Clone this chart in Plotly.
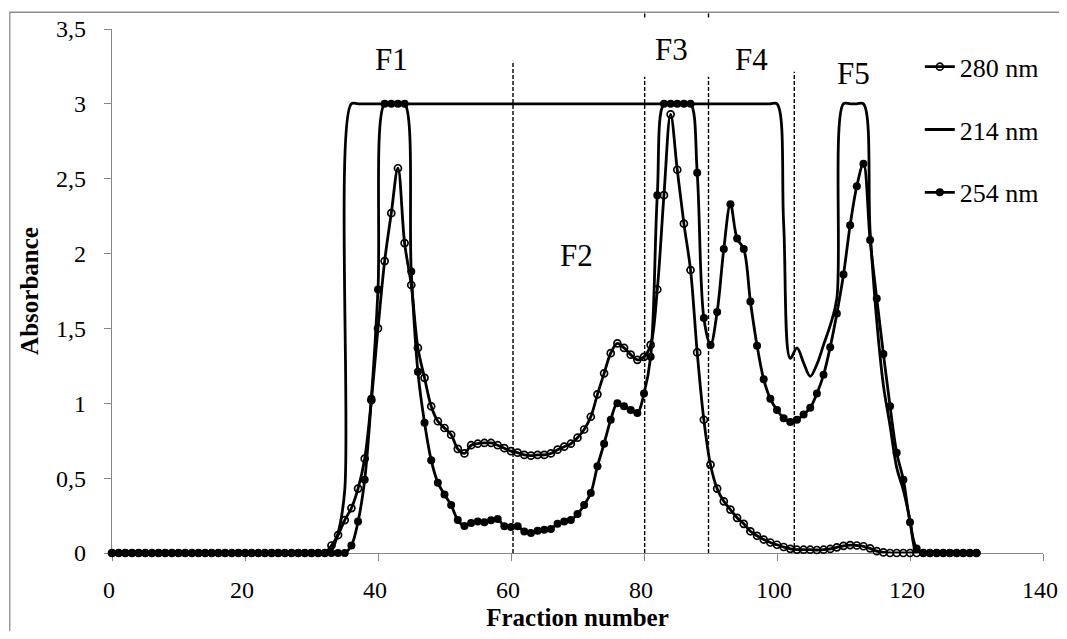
import plotly.graph_objects as go

# ---------------- data ----------------
fractions = list(range(0, 131))

a280_body = [0.05, 0.12, 0.22, 0.30, 0.43, 0.63, 1.02, 1.50, 1.95, 2.27,   # 33-42
             2.57, 2.07, 1.79, 1.37, 1.17, 0.98, 0.88, 0.835, 0.79, 0.695,  # 43-52
             0.665, 0.72, 0.73, 0.735, 0.735, 0.72, 0.70, 0.68, 0.67, 0.655,  # 53-62
             0.65, 0.655, 0.655, 0.665, 0.69, 0.71, 0.73, 0.77, 0.825, 0.91,  # 63-72
             1.06, 1.20, 1.335, 1.40, 1.37, 1.325, 1.29, 1.31, 1.39, 1.76,    # 73-82
             2.39, 2.93, 2.56, 2.20, 1.89, 1.34, 0.89, 0.59, 0.43, 0.345,     # 83-92
             0.29, 0.235, 0.195, 0.145, 0.115, 0.09, 0.07, 0.055, 0.04, 0.028,  # 93-102
             0.022, 0.022, 0.022, 0.02, 0.022, 0.027, 0.038, 0.048, 0.053, 0.05,  # 103-112
             0.045, 0.031, 0.012, 0.004]                                       # 113-116
a280 = [0.0] * 33 + a280_body + [0.0] * (131 - 33 - len(a280_body))

a254_body = [0.05, 0.21, 0.49, 1.03, 1.76, 3.0, 3.0, 3.0, 3.0, 1.88,          # 36-45
             1.21, 0.87, 0.62, 0.47, 0.39, 0.32, 0.22, 0.18, 0.20, 0.21,      # 46-55
             0.205, 0.218, 0.227, 0.178, 0.173, 0.178, 0.144, 0.134, 0.149, 0.156,  # 56-65
             0.16, 0.196, 0.21, 0.22, 0.26, 0.32, 0.40, 0.58, 0.73, 0.89,     # 66-75
             1.00, 0.98, 0.955, 0.935, 1.065, 1.31, 2.39, 3.0, 3.0, 3.0,      # 76-85
             3.0, 3.0, 2.54, 1.57, 1.39, 1.61, 2.03, 2.33, 2.10, 2.03,        # 86-95
             1.68, 1.385, 1.16, 1.03, 0.955, 0.90, 0.875, 0.89, 0.925, 0.97,  # 96-105
             1.065, 1.19, 1.375, 1.60, 1.86, 2.19, 2.45, 2.60, 2.09, 1.70,    # 106-115
             1.33, 0.98, 0.67, 0.49, 0.205, 0.03]                             # 116-121
a254 = [0.0] * 36 + a254_body + [0.0] * (131 - 36 - len(a254_body))

a214_body = [0.02, 0.135, 0.42] + [3.0] * 65 + [                              # 33-100
             2.2, 1.3, 1.37, 1.27, 1.18, 1.26, 1.39, 1.52, 1.70,              # 101-109
             3.0, 3.0, 3.0, 3.0, 2.15, 1.55, 1.12, 0.85, 0.57, 0.42, 0.22]     # 110-120
a214 = [0.0] * 33 + a214_body + [0.0] * (131 - 33 - len(a214_body))

series_names = ["280 nm", "214 nm", "254 nm"]

x_ticks = [0, 20, 40, 60, 80, 100, 120, 140]
y_ticks = [0, 0.5, 1, 1.5, 2, 2.5, 3, 3.5]

# fraction boundaries (dashed lines) and their top ends (paper units)
boundaries = [60.3, 80.1, 89.7, 102.6]
boundary_tops = [0.9395, 0.909, 0.909, 0.9185]
stub_boundaries = [80.1, 89.7]

region_labels = ["F1", "F2", "F3", "F4", "F5"]
region_x = [42.1, 69.9, 84.1, 96.2, 111.5]
region_y = [3.295, 1.99, 3.36, 3.295, 3.20]

# ---------------- figure ----------------
FONT = "Times New Roman, Liberation Serif, serif"
LW = 2.8
fig = go.Figure()

fig.add_trace(go.Scatter(
    x=fractions, y=a280, name=series_names[0], mode="lines+markers",
    line=dict(color="black", width=LW, shape="spline", smoothing=1),
    marker=dict(symbol="circle-open", size=7, color="black", line=dict(width=1.7)),
    cliponaxis=False, legendgroup="g1"))
fig.add_trace(go.Scatter(
    x=fractions, y=a214, name=series_names[1], mode="lines",
    line=dict(color="black", width=LW, shape="spline", smoothing=1),
    legendgroup="g2"))
fig.add_trace(go.Scatter(
    x=fractions, y=a254, name=series_names[2], mode="lines+markers",
    line=dict(color="black", width=LW, shape="spline", smoothing=1),
    marker=dict(symbol="circle", size=8, color="black"),
    cliponaxis=False, legendgroup="g3"))

shapes = []
for b, t in zip(boundaries, boundary_tops):
    shapes.append(dict(type="line", xref="x", yref="paper", x0=b, x1=b, y0=0, y1=t,
                       line=dict(color="black", width=1.4, dash="4px,2px")))
for b in stub_boundaries:
    shapes.append(dict(type="line", xref="x", yref="paper", x0=b, x1=b, y0=1.022, y1=1.033,
                       line=dict(color="black", width=1.4, dash="4px,2px")))
# outer chart frame (right and bottom edges fall outside the picture)
shapes.append(dict(type="rect", xref="paper", yref="paper", x0=-0.1098, x1=1.06,
                   y0=-0.3, y1=1.032, line=dict(color="#8c8c8c", width=1.3),
                   fillcolor="rgba(0,0,0,0)", layer="above"))

annotations = [dict(x=xx, y=yy, xref="x", yref="y", text=t, showarrow=False,
                    font=dict(family=FONT, size=31, color="black"))
               for t, xx, yy in zip(region_labels, region_x, region_y)]

axis_common = dict(showgrid=False, zeroline=False, showline=True, linecolor="#868686",
                   linewidth=1.3, ticks="outside", ticklen=7, tickcolor="#868686",
                   tickwidth=1.3, layer="below traces", automargin=False,
                   tickfont=dict(family=FONT, size=24, color="black"))

# page body has an 8px margin: size the figure so the page fits the window
fig.update_layout(
    width=1051, height=623, autosize=False,
    margin=dict(l=104, r=16, t=21, b=78, autoexpand=False),
    paper_bgcolor="white", plot_bgcolor="white",
    separators=", ",
    shapes=shapes, annotations=annotations,
    xaxis=dict(range=[0, 140], tickvals=x_ticks, ticklabelstandoff=8,
               ticklabeloverflow="allow", ticklabelshift=-3,
               title=dict(text="<b>Fraction number</b>", standoff=22,
                          font=dict(family=FONT, size=25, color="black")),
               **axis_common),
    yaxis=dict(range=[0, 3.5], tickvals=y_ticks, ticklabelstandoff=13,
               title=dict(text="<b>Absorbance</b>", standoff=10,
                          font=dict(family=FONT, size=25, color="black")),
               **axis_common),
    legend=dict(x=0.8677, y=0.9727, xanchor="left", yanchor="top",
                bgcolor="rgba(0,0,0,0)", tracegroupgap=26,
                font=dict(family=FONT, size=26, color="black")),
    showlegend=True,
)

fig.write_html("out.html")
